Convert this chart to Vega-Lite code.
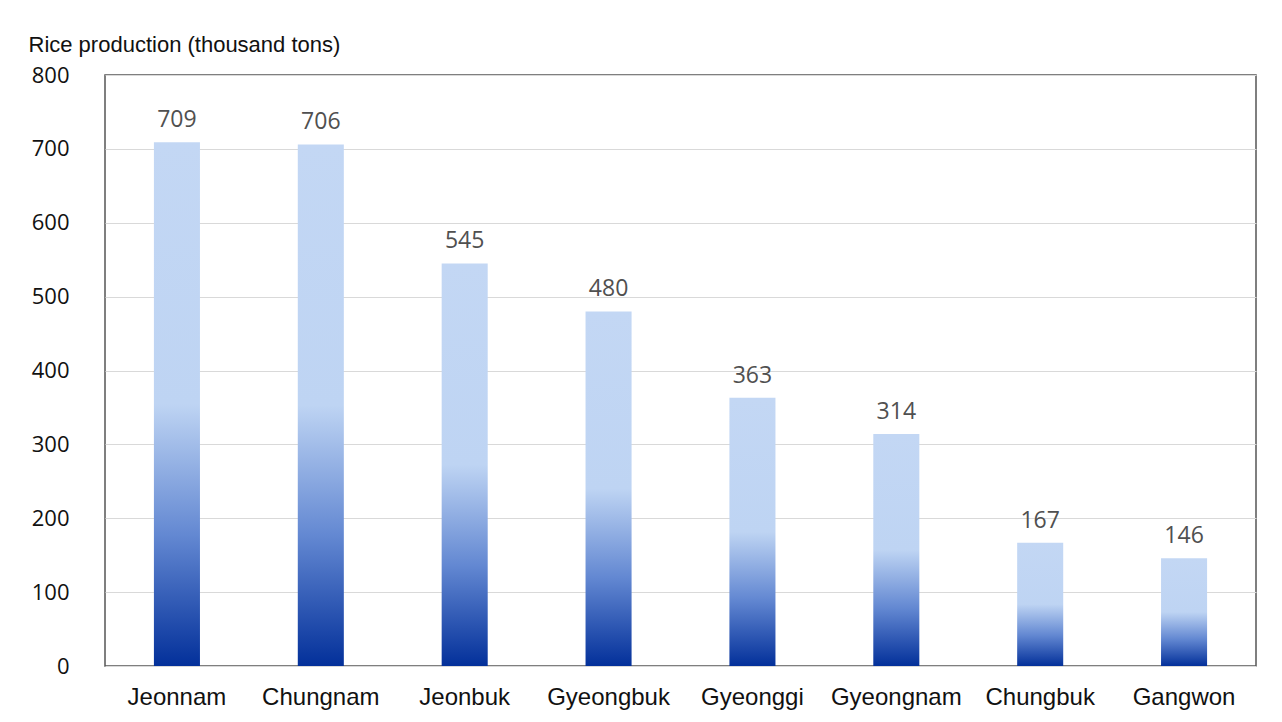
{
  "$schema": "https://vega.github.io/schema/vega-lite/v6.json",
  "autosize": {"type": "none"},
  "width": 1151,
  "height": 591,
  "padding": {"left": 105, "top": 75, "right": 26, "bottom": 56},
  "background": "white",
  "config": {
    "view": {"stroke": "#555555", "strokeWidth": 1.5},
    "font": "Liberation Sans"
  },
  "data": {
    "values": [
      {"region": "Jeonnam", "production": 709},
      {"region": "Chungnam", "production": 706},
      {"region": "Jeonbuk", "production": 545},
      {"region": "Gyeongbuk", "production": 480},
      {"region": "Gyeonggi", "production": 363},
      {"region": "Gyeongnam", "production": 314},
      {"region": "Chungbuk", "production": 167},
      {"region": "Gangwon", "production": 146}
    ]
  },
  "encoding": {
    "x": {
      "field": "region",
      "type": "nominal",
      "sort": null,
      "scale": {"paddingInner": 0.68, "paddingOuter": 0.34},
      "axis": {
        "title": null,
        "labelAngle": 0,
        "labelFont": "Liberation Sans",
        "labelFontSize": 24,
        "labelColor": "#111111",
        "labelPadding": 19,
        "domain": false,
        "ticks": false
      }
    },
    "y": {
      "field": "production",
      "type": "quantitative",
      "scale": {"domain": [0, 800], "nice": false},
      "axis": {
        "values": [0, 100, 200, 300, 400, 500, 600, 700, 800],
        "title": "Rice production (thousand tons)",
        "titleAngle": 0,
        "titleAlign": "left",
        "titleBaseline": "alphabetic",
        "titleX": -77,
        "titleY": -24,
        "titleFont": "Liberation Sans",
        "titleFontSize": 22,
        "titleFontWeight": "normal",
        "titleColor": "#111111",
        "labelFont": "Open Sans",
        "labelFontSize": 22,
        "labelColor": "#111111",
        "labelPadding": 36,
        "domain": false,
        "ticks": false,
        "grid": true,
        "gridColor": "#D9D9D9",
        "gridWidth": 1
      }
    }
  },
  "layer": [
    {
      "mark": {
        "type": "bar",
        "color": {
          "gradient": "linear",
          "x1": 0, "y1": 0, "x2": 0, "y2": 1,
          "stops": [
            {"offset": 0, "color": "#C3D7F4"},
            {"offset": 0.5, "color": "#BED4F3"},
            {"offset": 0.75, "color": "#6388D2"},
            {"offset": 1, "color": "#03309A"}
          ]
        }
      }
    },
    {
      "mark": {
        "type": "text",
        "baseline": "alphabetic",
        "dy": -15,
        "font": "Open Sans",
        "fontSize": 23,
        "color": "#505050"
      },
      "encoding": {"text": {"field": "production", "type": "quantitative"}}
    }
  ]
}
